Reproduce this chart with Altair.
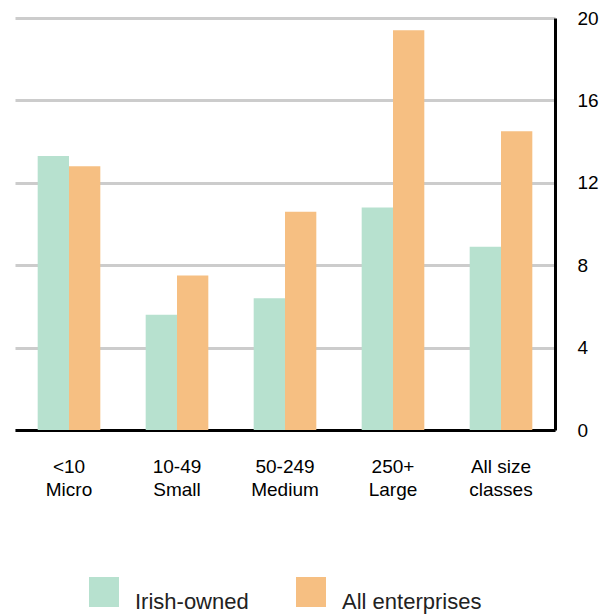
import altair as alt
import pandas as pd

categories = ["<10|Micro", "10-49|Small", "50-249|Medium", "250+|Large", "All size|classes"]
series = ["Irish-owned", "All enterprises"]
irish_owned = [13.3, 5.6, 6.4, 10.8, 8.9]
all_enterprises = [12.8, 7.5, 10.6, 19.4, 14.5]
y_ticks = [0, 4, 8, 12, 16, 20]
colors = ["#b7e1cf", "#f6bf82"]

rows = []
for c, a, b in zip(categories, irish_owned, all_enterprises):
    rows.append({"size": c, "series": series[0], "value": a})
    rows.append({"size": c, "series": series[1], "value": b})
df = pd.DataFrame(rows)

font = "Liberation Sans"

chart = alt.Chart(df).mark_bar().encode(
    x=alt.X("size:N", sort=categories, title=None,
            scale=alt.Scale(paddingInner=0.42, paddingOuter=0.21),
            axis=alt.Axis(labelExpr="split(datum.value, '|')", labelAngle=0,
                          ticks=False, domainColor="black", domainWidth=3,
                          labelFontSize=19, labelFont=font, labelColor="black",
                          labelPadding=36, labelLineHeight=23, labelBaseline="middle")),
    xOffset=alt.XOffset("series:N", sort=series),
    y=alt.Y("value:Q", title=None,
            scale=alt.Scale(domain=[0, 20], nice=False),
            axis=alt.Axis(orient="right", values=y_ticks, ticks=False,
                          domainColor="black", domainWidth=3,
                          grid=True, gridColor="#cccccc", gridWidth=3,
                          labelFontSize=19, labelFont=font, labelColor="black",
                          labelPadding=22)),
    color=alt.Color("series:N", sort=series,
                    scale=alt.Scale(domain=series, range=colors),
                    legend=alt.Legend(title=None, orient="none", legendX=74, legendY=559,
                                      direction="horizontal", symbolType="square",
                                      symbolSize=900, symbolStrokeWidth=0,
                                      labelFontSize=22, labelFont=font, labelColor="#222222",
                                      labelBaseline="top",
                                      labelOffset=16, columnPadding=47, labelLimit=300)),
).properties(
    width=540, height=412,
    padding={"left": 15, "top": 18, "right": 53, "bottom": 190},
    autosize=alt.AutoSizeParams(type="none"),
).configure_view(stroke=None)

chart.save("out.html", embed_options={"renderer": "svg", "actions": False})
